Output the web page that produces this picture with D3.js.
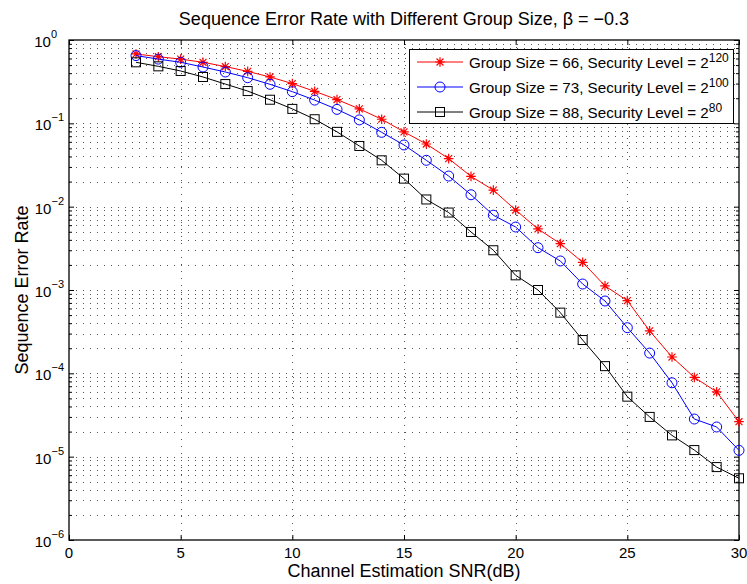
<!DOCTYPE html>
<html>
<head>
<meta charset="utf-8">
<script src="https://cdn.jsdelivr.net/npm/d3@7"></script>
<style>
  body { margin: 0; background: #fff; }
  text { font-family: "Liberation Sans", Arial, sans-serif; fill: #000; }
</style>
</head>
<body>
<div class="chart"></div>
<script>
const w = 747;
const h = 584;
const margin = { left: 69, right: 8, top: 40, bottom: 44 };

// data
const snr = [3, 4, 5, 6, 7, 8, 9, 10, 11, 12, 13, 14, 15, 16, 17, 18, 19, 20, 21, 22, 23, 24, 25, 26, 27, 28, 29, 30];
const ser66 = [0.68, 0.63, 0.59, 0.54, 0.48, 0.42, 0.36, 0.30, 0.242, 0.193, 0.149, 0.112, 0.079, 0.0565,
  0.0377, 0.0231, 0.0158, 0.0091, 0.0054, 0.0036, 0.00215, 0.00112, 0.000745, 0.000323, 0.000157, 8.95e-5, 6.0e-5, 2.63e-5];
const ser73 = [0.65, 0.59, 0.54, 0.474, 0.413, 0.353, 0.294, 0.24, 0.19, 0.147, 0.11, 0.078, 0.055, 0.036,
  0.0233, 0.0139, 0.0079, 0.0057, 0.00322, 0.00223, 0.00118, 0.000738, 0.000353, 0.000175, 7.7e-5, 2.83e-5, 2.27e-5, 1.19e-5];
const ser88 = [0.54, 0.483, 0.425, 0.36, 0.296, 0.244, 0.192, 0.149, 0.112, 0.079, 0.0535, 0.036, 0.0217, 0.0122,
  0.0085, 0.00497, 0.003, 0.0015, 0.001, 0.000535, 0.000251, 0.000122, 5.25e-5, 3.0e-5, 1.8e-5, 1.2e-5, 7.5e-6, 5.5e-6];

const xTicks = [0, 5, 10, 15, 20, 25, 30];
const yExps = [-6, -5, -4, -3, -2, -1, 0];

const seriesNames = ["Group Size = 66, Security Level = 2", "Group Size = 73, Security Level = 2", "Group Size = 88, Security Level = 2"];
const seriesSup = ["120", "100", "80"];
const seriesColors = ["#ff0000", "#0000ff", "#000000"];
const seriesMarkers = ["star", "circle", "square"];
const seriesValues = [ser66, ser73, ser88];

const svg = d3.select(".chart").append("svg")
  .attr("width", w).attr("height", h);

const x0 = margin.left, x1 = w - margin.right;
const y0 = margin.top, y1 = h - margin.bottom;

const xScale = d3.scaleLinear().domain([0, 30]).range([x0, x1]);
const yScale = d3.scaleLog().domain([1e-6, 1]).range([y1, y0]);

// minor log ticks (2..9 in each decade)
const minorVals = [];
yExps.slice(0, -1).forEach(e => {
  for (let k = 2; k <= 9; k++) minorVals.push(k * Math.pow(10, e));
});

const grid = svg.append("g").attr("class", "grid")
  .attr("stroke", "#555").attr("stroke-width", 1).attr("stroke-dasharray", "1,6");

grid.selectAll(".gy").data(minorVals.concat(yExps.map(e => Math.pow(10, e)).slice(1, -1)))
  .enter().append("line")
  .attr("x1", x0).attr("x2", x1)
  .attr("y1", d => Math.round(yScale(d)) + 0.5).attr("y2", d => Math.round(yScale(d)) + 0.5);

grid.selectAll(".gx").data(xTicks.slice(1, -1))
  .enter().append("line")
  .attr("y1", y0).attr("y2", y1)
  .attr("x1", d => Math.round(xScale(d)) + 0.5).attr("x2", d => Math.round(xScale(d)) + 0.5);

// axes (inward ticks, box)
const xAxisB = d3.axisBottom(xScale).tickValues(xTicks).tickSizeInner(-5).tickSizeOuter(0).tickFormat("");
const xAxisT = d3.axisTop(xScale).tickValues(xTicks).tickSizeInner(-5).tickSizeOuter(0).tickFormat("");
const yMajor = yExps.map(e => Math.pow(10, e));
const yAxisL = d3.axisLeft(yScale).tickValues(yMajor).tickSizeInner(-5).tickSizeOuter(0).tickFormat("");
const yAxisR = d3.axisRight(yScale).tickValues(yMajor).tickSizeInner(-5).tickSizeOuter(0).tickFormat("");
const yMinorL = d3.axisLeft(yScale).tickValues(minorVals).tickSizeInner(-3).tickSizeOuter(0).tickFormat("");
const yMinorR = d3.axisRight(yScale).tickValues(minorVals).tickSizeInner(-3).tickSizeOuter(0).tickFormat("");

[[xAxisB, `translate(0,${y1})`], [xAxisT, `translate(0,${y0})`],
 [yAxisL, `translate(${x0},0)`], [yAxisR, `translate(${x1},0)`],
 [yMinorL, `translate(${x0},0)`], [yMinorR, `translate(${x1},0)`]].forEach(([ax, tr]) => {
  const g = svg.append("g").attr("transform", tr).call(ax);
  g.select(".domain").remove();
  g.selectAll("line").attr("stroke", "#000");
});

svg.append("rect")
  .attr("x", x0).attr("y", y0).attr("width", x1 - x0).attr("height", y1 - y0)
  .attr("fill", "none").attr("stroke", "#000").attr("stroke-width", 1.3);

// tick labels
svg.append("g").selectAll("text").data(xTicks).enter().append("text")
  .attr("x", d => xScale(d)).attr("y", y1 + 18)
  .attr("text-anchor", "middle").attr("font-size", 15)
  .text(d => d);

const yl = svg.append("g").selectAll("text").data(yExps).enter().append("text")
  .attr("x", d => d === 0 ? 57 : 64).attr("y", d => yScale(Math.pow(10, d)) + 7)
  .attr("text-anchor", "end").attr("font-size", 15);
yl.append("tspan").text("10");
yl.append("tspan").attr("dy", -9).attr("font-size", 11)
  .text(d => d === 0 ? "0" : "\u2212" + Math.abs(d));

// title and axis labels
svg.append("text").attr("x", (x0 + x1) / 2).attr("y", 25)
  .attr("text-anchor", "middle").attr("font-size", 18)
  .text("Sequence Error Rate with Different Group Size, \u03b2 = \u22120.3");

svg.append("text").attr("x", (x0 + x1) / 2).attr("y", 577)
  .attr("text-anchor", "middle").attr("font-size", 18)
  .text("Channel Estimation SNR(dB)");

svg.append("text").attr("transform", `translate(28,${(y0 + y1) / 2}) rotate(-90)`)
  .attr("text-anchor", "middle").attr("font-size", 18)
  .text("Sequence Error Rate");

// markers
function drawMarker(g, type, color) {
  if (type === "circle") {
    g.append("circle").attr("r", 5).attr("fill", "none").attr("stroke", color).attr("stroke-width", 1);
  } else if (type === "square") {
    g.append("rect").attr("x", -4.5).attr("y", -4.5).attr("width", 9).attr("height", 9)
      .attr("fill", "none").attr("stroke", color).attr("stroke-width", 1);
  } else {
    const r = 4.8, d = r * 0.72;
    g.append("path")
      .attr("d", `M${-r},0L${r},0M0,${-r}L0,${r}M${-d},${-d}L${d},${d}M${-d},${d}L${d},${-d}`)
      .attr("stroke", color).attr("stroke-width", 1.2).attr("fill", "none");
  }
}

const line = d3.line().x(d => xScale(d[0])).y(d => yScale(d[1]));

seriesValues.forEach((vals, i) => {
  const pts = snr.map((s, j) => [s, vals[j]]);
  const g = svg.append("g");
  g.append("path").datum(pts).attr("d", line)
    .attr("fill", "none").attr("stroke", seriesColors[i]).attr("stroke-width", 1);
  g.selectAll(".m").data(pts).enter().append("g")
    .attr("transform", d => `translate(${xScale(d[0])},${yScale(d[1])})`)
    .each(function () { drawMarker(d3.select(this), seriesMarkers[i], seriesColors[i]); });
});

// legend
const lg = svg.append("g").attr("transform", "translate(409,49)");
lg.append("rect").attr("x", 0.5).attr("y", 0.5).attr("width", 324).attr("height", 74)
  .attr("fill", "#fff").attr("stroke", "#000").attr("stroke-width", 1);
seriesNames.forEach((name, i) => {
  const cy = 13 + i * 25;
  lg.append("line").attr("x1", 8).attr("x2", 54).attr("y1", cy).attr("y2", cy)
    .attr("stroke", seriesColors[i]).attr("stroke-width", 1);
  drawMarker(lg.append("g").attr("transform", `translate(31,${cy})`), seriesMarkers[i], seriesColors[i]);
  const t = lg.append("text").attr("x", 60).attr("y", cy + 6).attr("font-size", 15.2);
  t.append("tspan").text(name);
  t.append("tspan").attr("dy", -6).attr("font-size", 12).text(seriesSup[i]);
});
</script>
</body>
</html>
